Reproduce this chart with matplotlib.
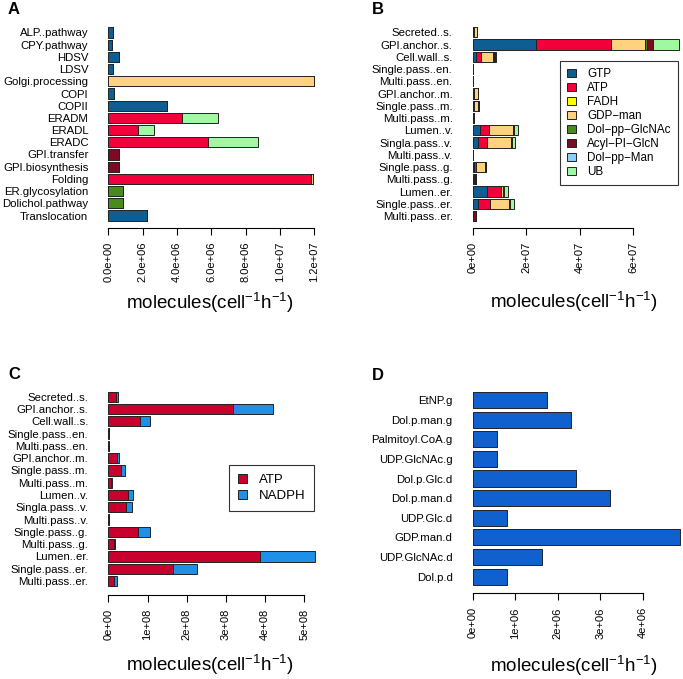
import matplotlib
matplotlib.use('Agg')
import matplotlib.pyplot as plt
from matplotlib.patches import Patch
import numpy as np

plt.rcParams['font.family'] = ['Liberation Sans', 'DejaVu Sans']
plt.rcParams['mathtext.fontset'] = 'custom'
plt.rcParams['mathtext.rm'] = 'Liberation Sans'
plt.rcParams['mathtext.it'] = 'Liberation Sans:italic'
plt.rcParams['mathtext.bf'] = 'Liberation Sans:bold'

W, H = 683, 679
EDGE = '#222222'

# ---- data ----
# energy carriers (panels A, B)
carrier_names = ['GTP', 'ATP', 'FADH', 'GDP\u2212man', 'Dol\u2212pp\u2212GlcNAc',
                 'Acyl\u2212PI\u2212GlcN', 'Dol\u2212pp\u2212Man', 'UB']
carrier_colors = ['#0F5E93', '#F2003C', '#FFFF00', '#FFD27F', '#4A8C1C',
                  '#7B0A22', '#87CEFA', '#A0F8A0']

# A: processes (values in 1e6 molecules/cell/h)
proc_labels = ['ALP..pathway', 'CPY.pathway', 'HDSV', 'LDSV', 'Golgi.processing',
               'COPI', 'COPII', 'ERADM', 'ERADL', 'ERADC', 'GPI.transfer',
               'GPI.biosynthesis', 'Folding', 'ER.glycosylation', 'Dolichol.pathway',
               'Translocation']
proc_gtp = [0.29, 0.23, 0.62, 0.25, 0, 0.31, 3.44, 0, 0, 0, 0, 0, 0, 0, 0, 2.25]
proc_atp = [0, 0, 0, 0, 0, 0, 0, 4.27, 1.75, 5.82, 0, 0, 11.8, 0, 0, 0]
proc_fadh = [0, 0, 0, 0, 0, 0, 0, 0, 0, 0, 0, 0, 0.03, 0, 0, 0]
proc_gdpman = [0, 0, 0, 0, 12.0, 0, 0, 0, 0, 0, 0, 0, 0.12, 0, 0, 0]
proc_dolglcnac = [0, 0, 0, 0, 0, 0, 0, 0, 0, 0, 0, 0, 0, 0.86, 0.83, 0]
proc_acyl = [0, 0, 0, 0, 0, 0, 0, 0, 0, 0, 0.6, 0.6, 0, 0, 0, 0]
proc_dolman = [0] * 16
proc_ub = [0, 0, 0, 0, 0, 0, 0, 2.12, 0.89, 2.88, 0, 0, 0, 0, 0, 0]

# B, C: protein classes
prot_labels = ['Secreted..s.', 'GPI.anchor..s.', 'Cell.wall..s.', 'Single.pass..en.',
               'Multi.pass..en.', 'GPI.anchor..m.', 'Single.pass..m.', 'Multi.pass..m.',
               'Lumen..v.', 'Singla.pass..v.', 'Multi.pass..v.', 'Single.pass..g.',
               'Multi.pass..g.', 'Lumen..er.', 'Single.pass..er.', 'Multi.pass..er.']
prot_gtp = [0.2, 23.6, 1.1, 0, 0, 0.2, 0.2, 0.1, 2.6, 2.0, 0, 0.3, 0.1, 5.2, 2.1, 0]
prot_atp = [0.3, 28.3, 2.1, 0.05, 0.05, 0.3, 0.3, 0.1, 3.4, 3.3, 0.05, 1.0, 0.2, 5.5, 4.4, 0.1]
prot_fadh = [0] * 16
prot_gdpman = [1.0, 12.5, 4.4, 0.05, 0.05, 1.3, 1.5, 0.1, 8.9, 8.9, 0.05, 3.2, 0.7, 0.7, 6.9, 0.1]
prot_dolglcnac = [0.05, 1.0, 0.4, 0, 0, 0.1, 0.1, 0, 0.6, 0.6, 0, 0.2, 0.1, 0.4, 0.5, 0]
prot_acyl = [0.1, 2.0, 0.2, 0, 0, 0.1, 0.1, 0.3, 0, 0, 0, 0.3, 0.1, 0, 0, 1.0]
prot_dolman = [0] * 16
prot_ub = [0, 9.8, 0.6, 0, 0, 0, 0, 0, 1.3, 1.1, 0, 0, 0, 1.3, 1.5, 0]

# C: ATP / NADPH (x 1e8)
redox_atp = [0.19, 3.17, 0.80, 0.01, 0.01, 0.21, 0.32, 0.06, 0.49, 0.46, 0.01, 0.77,
             0.14, 3.88, 1.64, 0.14]
redox_nadph = [0.06, 1.03, 0.27, 0.003, 0.003, 0.07, 0.11, 0.03, 0.15, 0.14, 0.003,
               0.29, 0.04, 1.39, 0.62, 0.07]

# D: precursors (x 1e6)
prec_labels = ['EtNP.g', 'Dol.p.man.g', 'Palmitoyl.CoA.g', 'UDP.GlcNAc.g', 'Dol.p.Glc.d',
               'Dol.p.man.d', 'UDP.Glc.d', 'GDP.man.d', 'UDP.GlcNAc.d', 'Dol.p.d']
prec_values = [1.74, 2.32, 0.58, 0.58, 2.42, 3.23, 0.81, 4.86, 1.62, 0.81]


def place_axes(fig, x0, scale, xmax, y_first, pitch, n):
    """axes in pixel units; returns axes and its bottom (px)"""
    width = xmax * scale
    top = y_first - 0.6 * pitch
    height = (n - 1 + 1.2) * pitch
    ax = fig.add_axes([x0 / W, 1 - (top + height) / H, width / W, height / H])
    ax.set_xlim(0, xmax)
    ax.set_ylim(n - 1 + 0.6, -0.6)
    return ax, top + height


def style_axis(ax, labels, ticks, fmt, axis_y, bottom_px):
    for s in ['top', 'right', 'left']:
        ax.spines[s].set_visible(False)
    ax.spines['bottom'].set_position(('outward', (axis_y - bottom_px) * 0.72))
    ax.spines['bottom'].set_bounds(ticks[0], ticks[-1])
    ax.spines['bottom'].set_linewidth(0.8)
    ax.set_xticks(ticks)
    ax.set_xticklabels([fmt % t for t in ticks], rotation=90, fontsize=8)
    ax.tick_params(axis='x', length=5, width=0.8, pad=5)
    ax.set_yticks(range(len(labels)))
    ax.set_yticklabels(labels, fontsize=8.2)
    ax.tick_params(axis='y', length=0, pad=14.4)


def stacked(ax, series, colors, unit, height=0.83):
    y = np.arange(len(series[0]))
    left = np.zeros(len(series[0]))
    for vals, c in zip(series, colors):
        vals = np.asarray(vals, dtype=float) * unit
        ax.barh(y, vals, left=left, height=height, color=c, edgecolor=EDGE,
                linewidth=0.7, clip_on=False)
        left += vals


fig = plt.figure(figsize=(W / 100, H / 100), dpi=100)
xlabel = r'molecules(cell$^{-1}$h$^{-1}$)'

# ---- A ----
axA, botA = place_axes(fig, 108.3, 206.0 / 1.2e7, 1.2e7, 32.5, 12.2, 16)
stacked(axA, [proc_gtp, proc_atp, proc_fadh, proc_gdpman, proc_dolglcnac,
              proc_acyl, proc_dolman, proc_ub], carrier_colors, 1e6)
style_axis(axA, proc_labels, np.arange(0, 1.21e7, 2e6), '%.1e', 228, botA)

# ---- B ----
axB, botB = place_axes(fig, 472.7, 160.3 / 6e7, 7.72e7, 32.3, 12.25, 16)
stacked(axB, [prot_gtp, prot_atp, prot_fadh, prot_gdpman, prot_dolglcnac,
              prot_acyl, prot_dolman, prot_ub], carrier_colors, 1e6)
style_axis(axB, prot_labels, np.arange(0, 6.1e7, 2e7), '%.0e', 228, botB)
handles = [Patch(facecolor=c, edgecolor=EDGE, linewidth=0.7) for c in carrier_colors]
leg = axB.legend(handles, carrier_names, loc='upper right',
                 bbox_to_anchor=(677.7 / W, 1 - 61 / H), bbox_transform=fig.transFigure,
                 borderaxespad=0, fontsize=8.4, fancybox=False, edgecolor='black',
                 handlelength=0.75, handleheight=0.75, handletextpad=1.0,
                 labelspacing=0.17, borderpad=0.6)
leg.get_frame().set_linewidth(0.8)

# ---- C ----
axC, botC = place_axes(fig, 108.3, 196.0 / 5e8, 5.27e8, 396.7, 12.29, 16)
stacked(axC, [redox_atp, redox_nadph], ['#C8002E', '#1E90E8'], 1e8)
style_axis(axC, prot_labels, np.arange(0, 5.1e8, 1e8), '%.0e', 595, botC)
handles = [Patch(facecolor=c, edgecolor=EDGE, linewidth=0.7) for c in ['#C8002E', '#1E90E8']]
leg = axC.legend(handles, ['ATP', 'NADPH'], loc='upper right',
                 bbox_to_anchor=(314.3 / W, 1 - 465 / H), bbox_transform=fig.transFigure,
                 borderaxespad=0, fontsize=9.5, fancybox=False, edgecolor='black',
                 handlelength=0.7, handleheight=0.7, handletextpad=0.9,
                 labelspacing=0.3, borderpad=0.65)
leg.get_frame().set_linewidth(0.8)

# ---- D ----
axD, botD = place_axes(fig, 472.7, 170.3 / 4e6, 4.86e6, 400, 19.63, 10)
stacked(axD, [prec_values], ['#1060D0'], 1e6, height=0.82)
style_axis(axD, prec_labels, np.arange(0, 4.1e6, 1e6), '%.0e', 593.3, botD)

# axis titles and panel letters
for xc, yc in [(210, 303), (574, 302), (210, 665), (574, 666)]:
    fig.text(xc / W, 1 - yc / H, xlabel, ha='center', va='center', fontsize=13.5)
for letter, xc, yc in [('A', 13.5, 10), ('B', 378, 9.5), ('C', 14, 374.5), ('D', 378, 376)]:
    fig.text(xc / W, 1 - yc / H, letter, ha='center', va='center', fontsize=12,
             fontweight='bold')

plt.savefig('out.png', dpi=100)
